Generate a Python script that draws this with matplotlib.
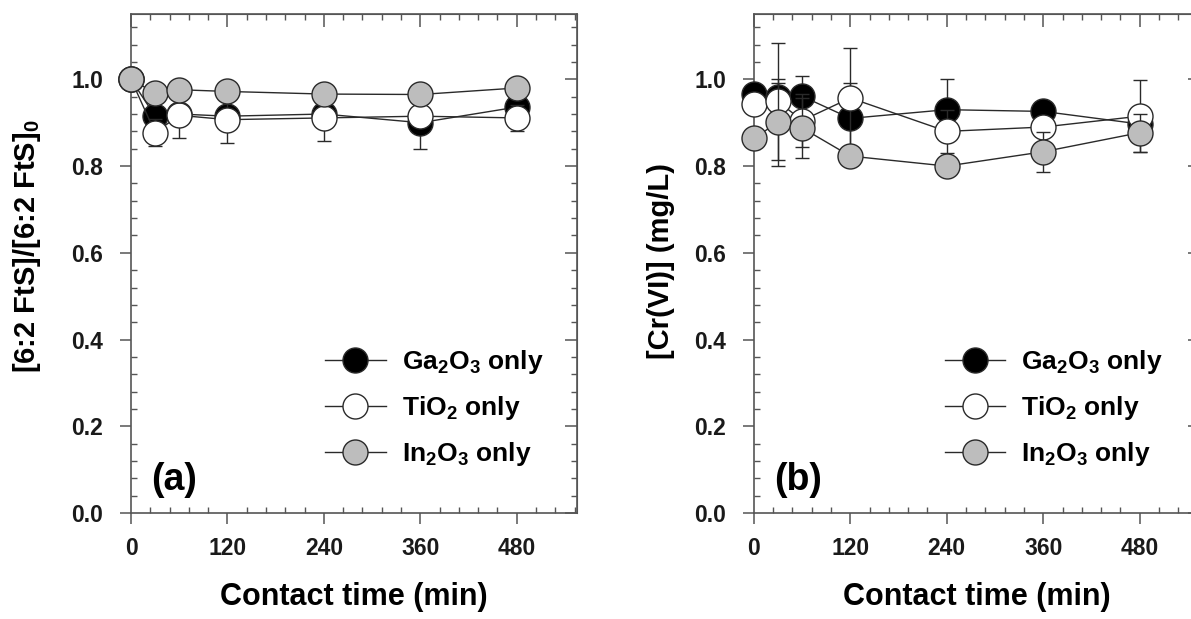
import numpy as np
import matplotlib
matplotlib.use("Agg")
import matplotlib.pyplot as plt
from matplotlib.ticker import MultipleLocator

plt.rcParams["font.family"] = ["Liberation Sans", "DejaVu Sans"]
plt.rcParams["font.weight"] = "bold"
plt.rcParams["mathtext.fontset"] = "custom"
plt.rcParams["mathtext.rm"] = "Liberation Sans:bold"
plt.rcParams["mathtext.bf"] = "Liberation Sans:bold"
plt.rcParams["mathtext.default"] = "bf"

# contact time (min)
time = [0, 30, 60, 120, 240, 360, 480]
labels = ["Ga$_2$O$_3$ only", "TiO$_2$ only", "In$_2$O$_3$ only"]

# (a) normalised 6:2 FtS
ga_a = [1.000, 0.915, 0.920, 0.915, 0.920, 0.900, 0.936]
ga_a_err = [0.0, 0.010, 0.010, 0.010, 0.010, 0.060, 0.010]
ti_a = [1.000, 0.877, 0.917, 0.907, 0.911, 0.915, 0.911]
ti_a_err = [0.0, 0.031, 0.053, 0.053, 0.054, 0.010, 0.030]
in_a = [1.000, 0.968, 0.976, 0.972, 0.966, 0.965, 0.980]
in_a_err = [0.0, 0.0, 0.0, 0.0, 0.0, 0.0, 0.0]

# (b) Cr(VI) in mg/L
ga_b = [0.965, 0.959, 0.961, 0.910, 0.930, 0.926, 0.897]
ga_b_err = [0.0, 0.033, 0.046, 0.082, 0.070, 0.022, 0.0]
ti_b = [0.942, 0.949, 0.905, 0.957, 0.880, 0.890, 0.915]
ti_b_err = [0.0, 0.135, 0.060, 0.115, 0.050, 0.0, 0.083]
in_b = [0.864, 0.901, 0.888, 0.823, 0.800, 0.833, 0.877]
in_b_err = [0.0, 0.100, 0.070, 0.0, 0.0, 0.046, 0.044]

fills = ["black", "white", "#bdbdbd"]
edge = "#2a2a2a"
spine_c = "#555555"


def style_axes(ax, ylabel, tag, ylab_xy):
    ax.set_xlim(0, 555)
    ax.set_ylim(0, 1.15)
    ax.xaxis.set_major_locator(MultipleLocator(120))
    ax.xaxis.set_minor_locator(MultipleLocator(24))
    ax.yaxis.set_major_locator(MultipleLocator(0.2))
    ax.yaxis.set_minor_locator(MultipleLocator(0.04))
    ax.yaxis.set_major_formatter(plt.FormatStrFormatter("%.1f"))
    for s in ax.spines.values():
        s.set_color(spine_c)
        s.set_linewidth(1.2)
    ax.tick_params(which="major", direction="out", length=8, width=1.1,
                   color=spine_c, labelsize=16.5, labelcolor="#1a1a1a")
    ax.tick_params(which="minor", direction="in", length=4, width=1.0, color=spine_c)
    ax.tick_params(axis="x", which="major", pad=9)
    ax.tick_params(axis="y", which="major", pad=12)

    # inward ticks on top and right
    top = ax.secondary_xaxis("top")
    top.xaxis.set_major_locator(MultipleLocator(120))
    top.xaxis.set_minor_locator(MultipleLocator(24))
    top.tick_params(which="major", direction="in", length=9, width=1.1, color=spine_c, labeltop=False)
    top.tick_params(which="minor", direction="in", length=4, width=1.0, color=spine_c)
    top.spines["top"].set_color(spine_c)
    right = ax.secondary_yaxis("right")
    right.yaxis.set_major_locator(MultipleLocator(0.2))
    right.yaxis.set_minor_locator(MultipleLocator(0.04))
    right.tick_params(which="major", direction="in", length=9, width=1.1, color=spine_c, labelright=False)
    right.tick_params(which="minor", direction="in", length=4, width=1.0, color=spine_c)
    right.spines["right"].set_color(spine_c)

    ax.set_xlabel("Contact time (min)", fontsize=22, fontweight="bold", labelpad=16)
    ax.set_ylabel(ylabel, fontsize=21, fontweight="bold")
    ax.yaxis.set_label_coords(*ylab_xy)
    ax.text(0.045, 0.066, tag, transform=ax.transAxes, fontsize=27,
            fontweight="bold", va="center", ha="left")


def draw(ax, series, errs):
    for i, (y, e) in enumerate(zip(series, errs)):
        ax.errorbar(time, y, yerr=e, color=edge, lw=1.0, elinewidth=1.0,
                    capsize=5, capthick=1.0, marker="o", ms=18,
                    mfc=fills[i], mec=edge, mew=1.0, zorder=3 + i, clip_on=False)


fig = plt.figure(figsize=(11.91, 6.19), dpi=100)
ax1 = fig.add_axes([0.110, 0.171, 0.3745, 0.806])
ax2 = fig.add_axes([0.633, 0.171, 0.3745, 0.806])

draw(ax1, [ga_a, ti_a, in_a], [ga_a_err, ti_a_err, in_a_err])
draw(ax2, [ga_b, ti_b, in_b], [ga_b_err, ti_b_err, in_b_err])

style_axes(ax1, "[6:2 FtS]/[6:2 FtS]$_0$", "(a)", (-0.197, 0.535))
style_axes(ax2, "[Cr(VI)] (mg/L)", "(b)", (-0.177, 0.505))

for ax, x0 in [(ax1, 0.435), (ax2, 0.428)]:
    hs = [plt.Line2D([], [], color=edge, lw=1.0, marker="o", ms=18,
                     mfc=f, mec=edge, mew=1.0) for f in fills]
    ax.legend(hs, labels, loc="center left", bbox_to_anchor=(x0, 0.21),
              frameon=False, fontsize=19, handlelength=2.3, handletextpad=0.6,
              labelspacing=0.68, borderpad=0, borderaxespad=0)

fig.savefig("out.png", dpi=100)
